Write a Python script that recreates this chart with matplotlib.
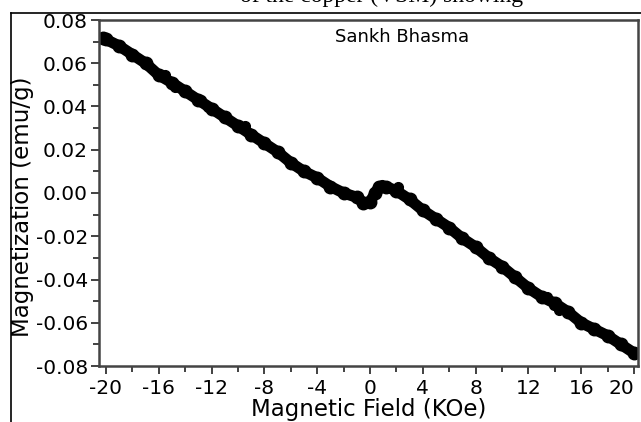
import matplotlib
matplotlib.use("Agg")
import matplotlib.pyplot as plt
from matplotlib.ticker import MultipleLocator, FormatStrFormatter
from matplotlib.lines import Line2D

# magnetisation curve (field in KOe, M in emu/g)
field = [-20.2, -20, -19, -18, -17, -16, -15, -14, -13, -12, -11, -10, -9, -8,
         -7, -6, -5, -4, -3, -2, -1, -0.5, 0, 0.4, 0.7, 1.2, 2, 3, 4, 5, 6, 7,
         8, 9, 10, 11, 12, 13, 14, 15, 16, 17, 18, 19, 20]
moment = [0.0718, 0.071, 0.068, 0.064, 0.060, 0.0545, 0.051, 0.047, 0.043,
          0.039, 0.035, 0.031, 0.027, 0.023, 0.019, 0.014, 0.010, 0.007, 0.003,
          0.000, -0.002, -0.0045, -0.004, 0.000, 0.003, 0.003, 0.001, -0.003,
          -0.008, -0.012, -0.016, -0.021, -0.025, -0.030, -0.034, -0.039,
          -0.044, -0.048, -0.051, -0.055, -0.060, -0.063, -0.066, -0.070, -0.074]
# scattered points sticking out of the band
bumpField = [-15.5, -14.8, -12.8, -12.3, -9.5, 0.9, 2.1, 13.4, 13.9, 14.3]
bumpMoment = [0.0545, 0.049, 0.043, 0.040, 0.031, 0.0035, 0.003, -0.048, -0.052, -0.054]

plt.rcParams["font.family"] = ["DejaVu Sans"]
plt.rcParams["axes.unicode_minus"] = False

fig = plt.figure(figsize=(6.41, 4.22), dpi=100)
ax = fig.add_axes([99/641, 1 - 366/422, (638 - 99)/641, (366 - 20)/422])

ax.plot(field, moment, "o-", color="black", lw=8, ms=9, solid_capstyle="round")
ax.plot(bumpField, bumpMoment, "o", color="black", ms=7)

ax.set_xlim(-20.53, 20.3)
ax.set_ylim(-0.08, 0.08)
ax.xaxis.set_major_locator(MultipleLocator(4))
ax.xaxis.set_minor_locator(MultipleLocator(2))
ax.yaxis.set_major_locator(MultipleLocator(0.02))
ax.yaxis.set_minor_locator(MultipleLocator(0.01))
ax.yaxis.set_major_formatter(FormatStrFormatter("%.2f"))
ax.tick_params(which="major", direction="out", length=6, width=1.3, labelsize=14.5, color="#333333")
ax.tick_params(axis="y", pad=2)
ax.tick_params(axis="x", pad=3)
ax.tick_params(which="minor", direction="out", length=4, width=1.3, color="#333333")
for s in ax.spines.values():
    s.set_color("#444444")
    s.set_linewidth(1.8)

ax.set_xlabel("Magnetic Field (KOe)", fontsize=16.5)
ax.xaxis.set_label_coords(0.5, (366 - 398)/346)
ax.set_ylabel("Magnetization (emu/g)", fontsize=16.5)
ax.yaxis.set_label_coords((34 - 99)/539, (366 - 207)/346)
ax.text((402 - 99)/539, (366 - 37)/346, "Sankh Bhasma", transform=ax.transAxes,
        fontsize=13, va="center", ha="center")

# page border and cut-off line of text above the figure
fig.add_artist(Line2D([11/641, 11/641], [0, 1 - 13/422], color="black", lw=1.2))
fig.add_artist(Line2D([11/641, 1], [1 - 13/422, 1 - 13/422], color="black", lw=1.2))
fig.text(240/641, 1 - 2/422, "of the copper (VSM) showing", family="Liberation Serif", fontsize=17, va="baseline")

fig.canvas.draw()
for lab in ax.get_xticklabels():
    if lab.get_text() == "20":
        lab.set_ha("right")  # keep "20" inside the picture

fig.savefig("out.png", dpi=100)
